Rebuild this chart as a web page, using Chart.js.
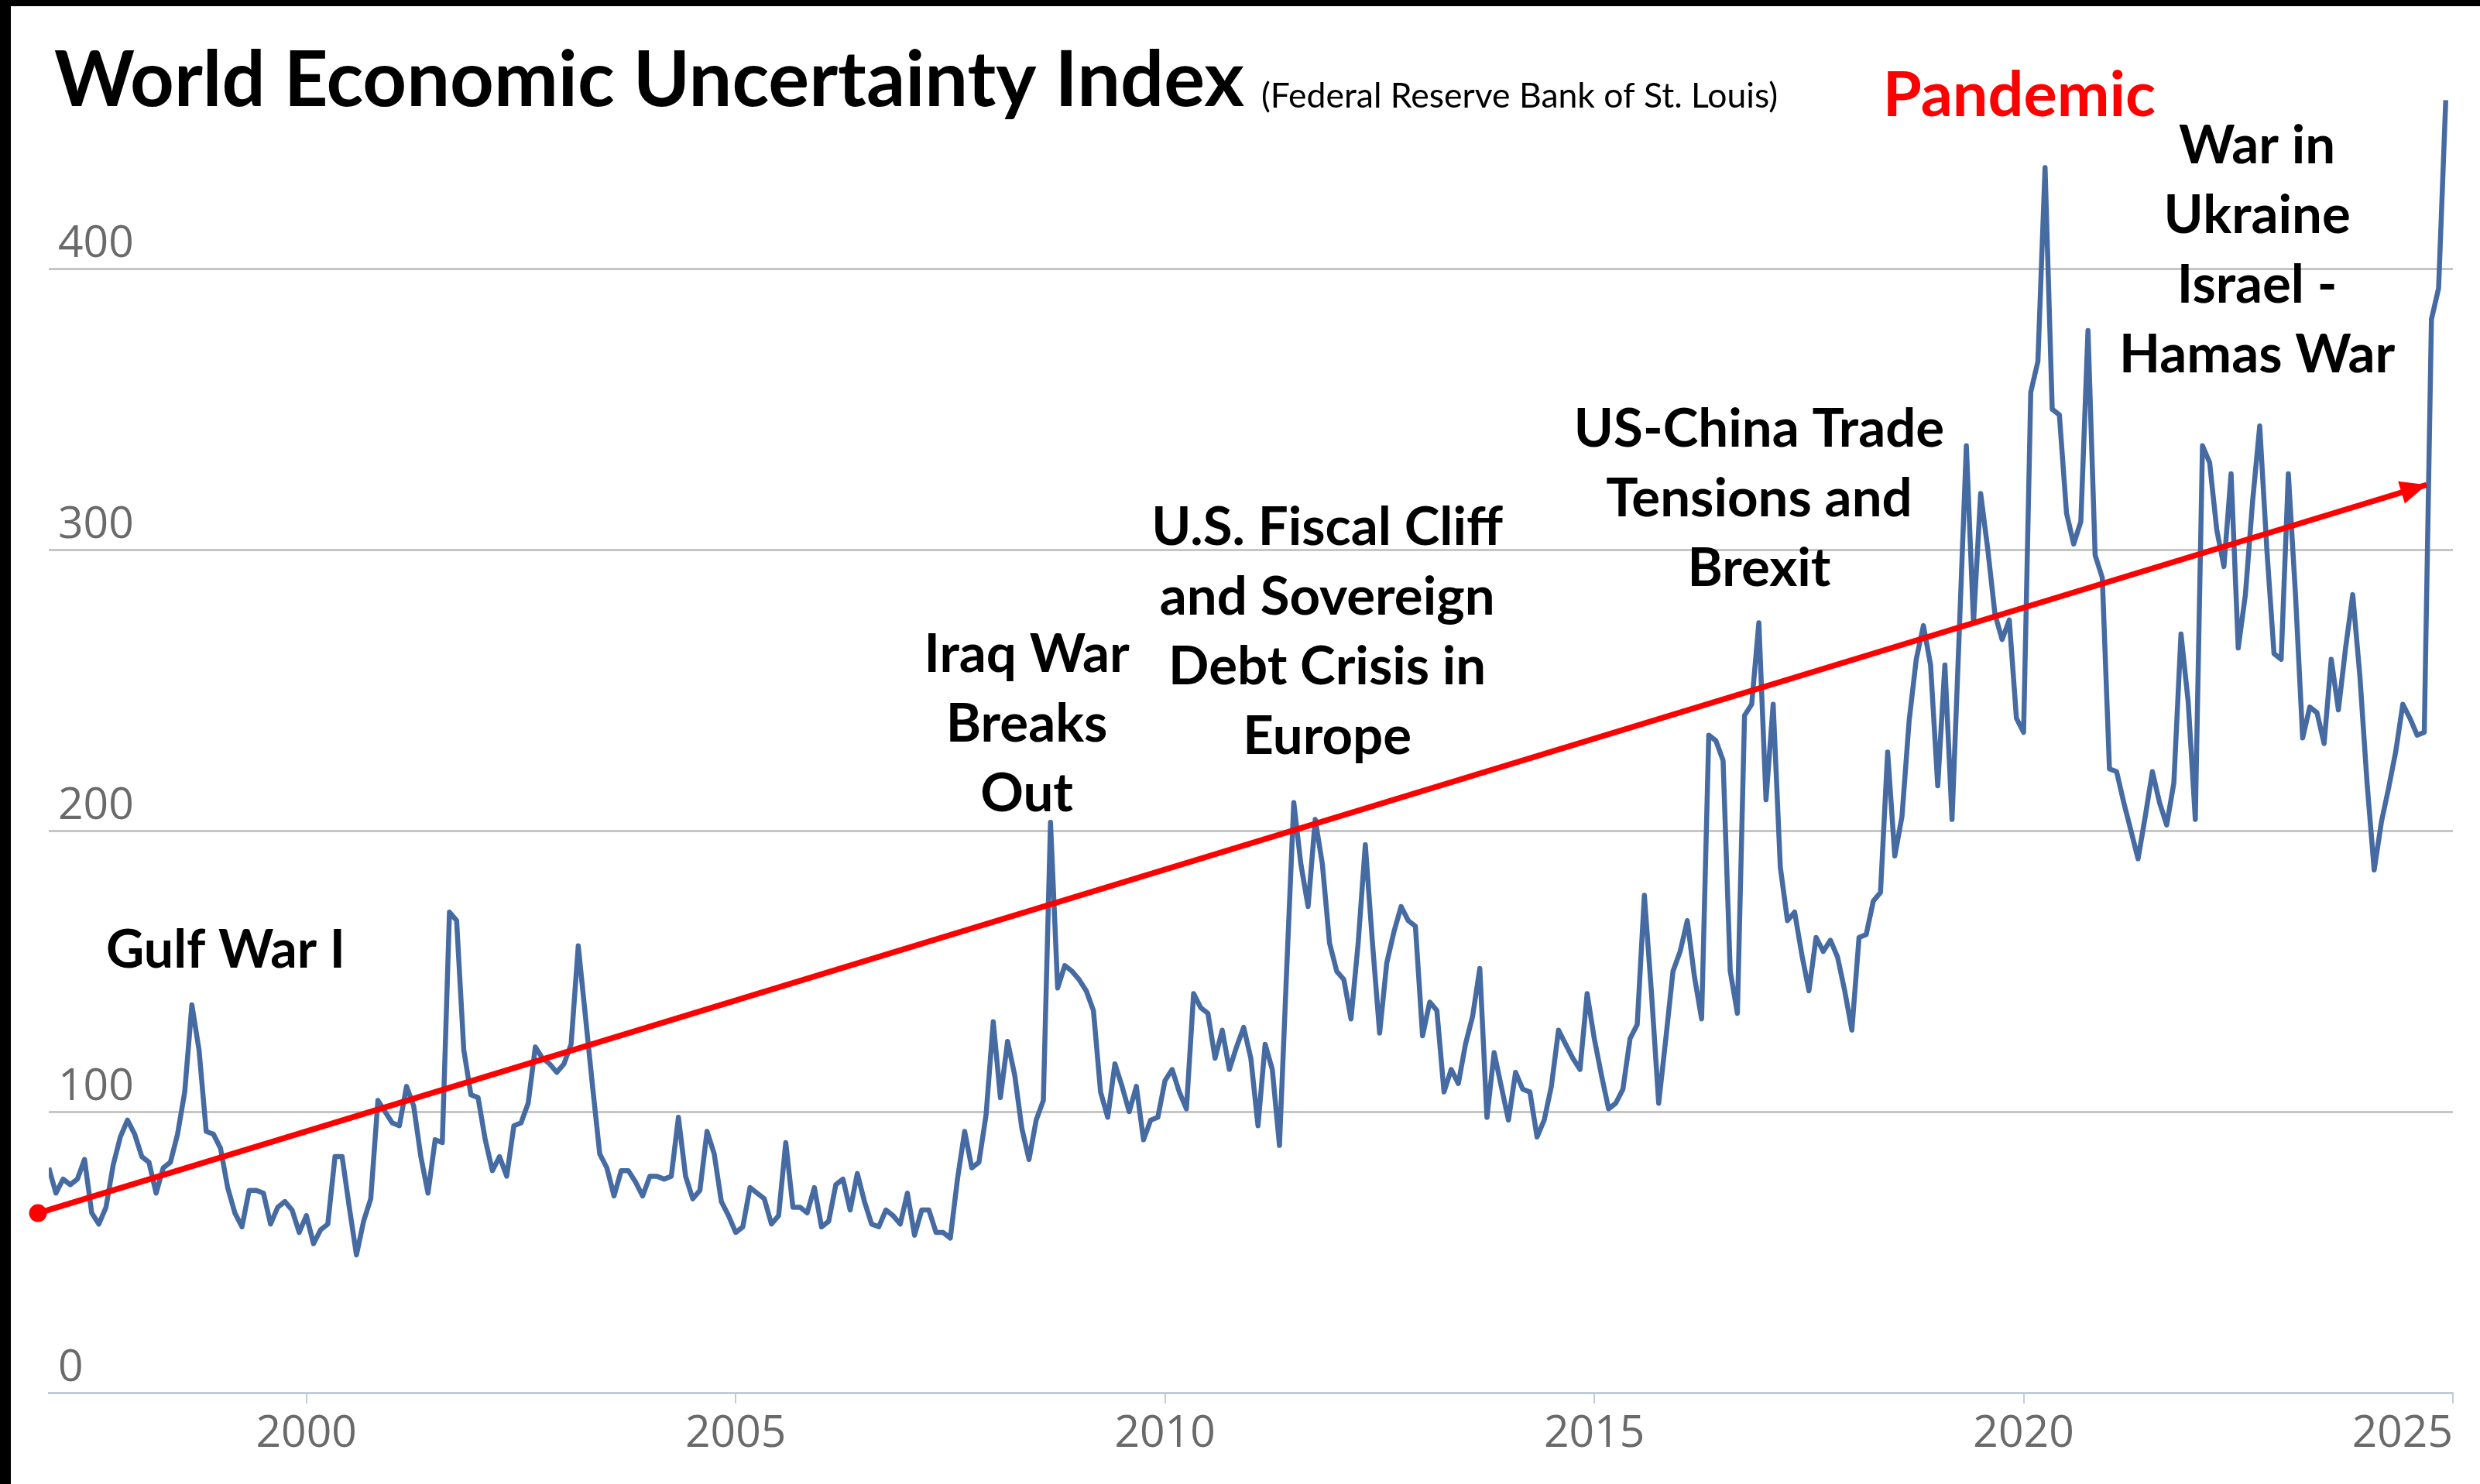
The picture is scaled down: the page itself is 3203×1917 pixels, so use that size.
<!DOCTYPE html>
<html>
<head>
<meta charset="utf-8">
<title>World Economic Uncertainty Index</title>
<script src="https://cdn.jsdelivr.net/npm/chart.js@4.4.1/dist/chart.umd.min.js"></script>
<style>
  html, body { margin: 0; padding: 0; background: #fff; }
  #wrap { position: relative; width: 3203px; height: 1917px; }
</style>
</head>
<body>
<div id="wrap"><canvas id="chart-wui" width="3203" height="1917"></canvas></div>
<script>
// monthly index values, January of firstYear onwards
const firstYear = 1997;
const wui1997to2000 = [
    80, 71, 76, 74, 76, 83, 64, 60, 66, 81, 91, 97,
    92, 84, 82, 71, 80, 82, 92, 107, 138, 122, 93, 92,
    87, 73, 64, 59, 72, 72, 71, 60, 66, 68, 65, 57,
    63, 53, 58, 60, 84, 84, 66, 49, 61, 69, 104, 100
];
const wui2001to2004 = [
    96, 95, 109, 102, 84, 71, 90, 89, 171, 168, 122, 106,
    105, 90, 79, 84, 77, 95, 96, 103, 123, 119, 117, 114,
    117, 124, 159, 134, 109, 85, 80, 70, 79, 79, 75, 70,
    77, 77, 76, 77, 98, 77, 69, 72, 93, 85, 68, 63
];
const wui2005to2008 = [
    57, 59, 73, 71, 69, 60, 63, 89, 66, 66, 64, 73,
    59, 61, 74, 76, 65, 78, 68, 60, 59, 65, 63, 60,
    71, 56, 65, 65, 57, 57, 55, 76, 93, 80, 82, 99,
    132, 105, 125, 113, 94, 83, 97, 104, 203, 144, 152, 150
];
const wui2009to2012 = [
    147, 143, 136, 107, 98, 117, 109, 100, 109, 90, 97, 98,
    111, 115, 107, 101, 142, 137, 135, 119, 129, 115, 123, 130,
    119, 95, 124, 115, 88, 150, 210, 188, 173, 204, 188, 160,
    150, 147, 133, 160, 195, 160, 128, 153, 164, 173, 168, 166
];
const wui2013to2016 = [
    127, 139, 136, 107, 115, 110, 124, 134, 151, 98, 121, 109,
    97, 114, 108, 107, 91, 97, 109, 129, 124, 119, 115, 142,
    126, 113, 101, 103, 108, 126, 131, 177, 142, 103, 126, 150,
    157, 168, 148, 133, 234, 232, 225, 150, 135, 241, 245, 274
];
const wui2017to2020 = [
    211, 245, 187, 168, 171, 156, 143, 162, 157, 161, 155, 143,
    129, 162, 163, 175, 178, 228, 191, 205, 239, 261, 273, 259,
    216, 259, 204, 270, 337, 274, 320, 300, 277, 268, 275, 240,
    235, 356, 367, 436, 350, 348, 313, 302, 310, 378, 298, 290
];
const wui2021to2024 = [
    222, 221, 210, 200, 190, 205, 221, 210, 202, 217, 270, 246,
    204, 337, 331, 307, 294, 327, 265, 284, 317, 344, 300, 263,
    261, 327, 284, 233, 244, 242, 231, 261, 243, 265, 284, 255,
    217, 186, 203, 215, 228, 245, 240, 234, 235, 382, 393, 460
];

const yearTicks = [2000, 2005, 2010, 2015, 2020, 2025];
const valueTicks = [0, 100, 200, 300, 400];

// hand-drawn trend arrow, from the red dot to the arrow tip
const trendFrom = { x: 1996.874, y: 63.9 };
const trendTo = { x: 2024.694, y: 323.1 };

const callouts = [
    { lines: ['Gulf War I'], x: 1999.06, y: 151.2, size: 68 },
    { lines: ['Iraq War', 'Breaks', 'Out'], x: 2008.39, y: 256.5, size: 69 },
    { lines: ['U.S. Fiscal Cliff', 'and Sovereign', 'Debt Crisis in', 'Europe'], x: 2011.89, y: 301.7, size: 69 },
    { lines: ['US-China Trade', 'Tensions and', 'Brexit'], x: 2016.92, y: 336.7, size: 69 },
    { lines: ['Pandemic'], x: 2019.95, y: 454.3, size: 81, color: '#ff0000' },
    { lines: ['War in', 'Ukraine', 'Israel -', 'Hamas War'], x: 2022.72, y: 437.5, size: 69 }
];

const monthly = [].concat(wui1997to2000, wui2001to2004, wui2005to2008, wui2009to2012,
    wui2013to2016, wui2017to2020, wui2021to2024);
const indexPoints = monthly.map((v, i) => ({ x: firstYear + i / 12, y: v }));

const TEXT_FONT = 'Lato, "Open Sans", sans-serif';
const TICK_FONT = { family: '"Open Sans", sans-serif', size: 57, lineHeight: 1.2 };
const TICK_COLOR = '#6a6a6a';
const AXIS_COLOR = '#c2ccd8';

const pageFrame = {
    id: 'pageFrame',
    beforeDraw(chart) {
        const { ctx, width, height } = chart;
        ctx.save();
        ctx.fillStyle = '#ffffff';
        ctx.fillRect(0, 0, width, height);
        ctx.fillStyle = '#000000';
        ctx.fillRect(0, 0, width, 8);
        ctx.fillRect(0, 0, 14, height);
        ctx.restore();
    }
};

const trendArrow = {
    id: 'trendArrow',
    afterDatasetsDraw(chart) {
        const meta = chart.getDatasetMeta(0);
        const a = meta.data[0];
        const b = meta.data[1];
        if (!a || !b) return;
        const { ctx } = chart;
        const angle = Math.atan2(b.y - a.y, b.x - a.x);
        const len = 34;
        const half = 15;
        ctx.save();
        ctx.fillStyle = '#ff0000';
        ctx.beginPath();
        ctx.arc(a.x, a.y, 11.5, 0, Math.PI * 2);
        ctx.fill();
        ctx.translate(b.x, b.y);
        ctx.rotate(angle);
        ctx.beginPath();
        ctx.moveTo(0, 0);
        ctx.lineTo(-len, -half);
        ctx.lineTo(-len, half);
        ctx.closePath();
        ctx.fill();
        ctx.restore();
    }
};

const textLayer = {
    id: 'textLayer',
    afterDraw(chart) {
        const { ctx, scales } = chart;
        ctx.save();
        ctx.textBaseline = 'alphabetic';

        // title with the source right after it
        ctx.textAlign = 'left';
        ctx.fillStyle = '#000000';
        ctx.font = `700 99px ${TEXT_FONT}`;
        const title = 'World Economic Uncertainty Index';
        ctx.fillText(title, 70, 137);
        const titleWidth = ctx.measureText(title).width;
        ctx.font = `400 44.5px ${TEXT_FONT}`;
        ctx.fillText('(Federal Reserve Bank of St. Louis)', 70 + titleWidth + 22, 139);

        ctx.textAlign = 'center';
        callouts.forEach(c => {
            const cx = scales.x.getPixelForValue(c.x);
            const cy = scales.y.getPixelForValue(c.y);
            ctx.font = `700 ${c.size}px ${TEXT_FONT}`;
            ctx.fillStyle = c.color || '#000000';
            c.lines.forEach((line, i) => ctx.fillText(line, cx, cy + i * 90));
        });
        ctx.restore();
    }
};

new Chart(document.getElementById('chart-wui'), {
    type: 'line',
    data: {
        datasets: [
            {
                label: 'Trend',
                data: [trendFrom, trendTo],
                borderColor: '#ff0000',
                borderWidth: 7.5,
                pointRadius: 0,
                clip: false,
                order: 0
            },
            {
                label: 'World Economic Uncertainty Index',
                data: indexPoints,
                borderColor: '#466ba2',
                borderWidth: 6.5,
                borderJoinStyle: 'round',
                pointRadius: 0,
                tension: 0,
                order: 1
            }
        ]
    },
    options: {
        responsive: false,
        devicePixelRatio: 1,
        animation: false,
        layout: { padding: { left: 39, right: 35, top: 93, bottom: 23.6 } },
        plugins: {
            legend: { display: false },
            tooltip: { enabled: false }
        },
        scales: {
            x: {
                type: 'linear',
                min: firstYear,
                max: 2025,
                afterBuildTicks(scale) {
                    scale.ticks = [firstYear, ...yearTicks].map(value => ({ value }));
                },
                ticks: {
                    autoSkip: false,
                    maxRotation: 0,
                    align: 'inner',
                    padding: 6,
                    color: TICK_COLOR,
                    font: TICK_FONT,
                    callback(value) {
                        return value === firstYear ? '' : String(value);
                    }
                },
                grid: {
                    drawOnChartArea: false,
                    drawTicks: true,
                    tickLength: 14,
                    lineWidth: 2,
                    color(context) {
                        return context.tick && context.tick.value === firstYear ? 'rgba(0,0,0,0)' : AXIS_COLOR;
                    }
                },
                border: { display: true, color: AXIS_COLOR, width: 3 }
            },
            y: {
                min: 0,
                max: 470,
                afterBuildTicks(scale) {
                    scale.ticks = valueTicks.map(value => ({ value }));
                },
                ticks: {
                    mirror: true,
                    padding: 12,
                    labelOffset: -31,
                    color: TICK_COLOR,
                    font: TICK_FONT,
                    callback(value) {
                        return String(value);
                    }
                },
                grid: {
                    drawTicks: false,
                    lineWidth: 3,
                    color(context) {
                        return context.tick && context.tick.value === 0 ? 'rgba(0,0,0,0)' : '#c6c6c6';
                    }
                },
                border: { display: false }
            }
        }
    },
    plugins: [pageFrame, trendArrow, textLayer]
});
</script>
</body>
</html>
